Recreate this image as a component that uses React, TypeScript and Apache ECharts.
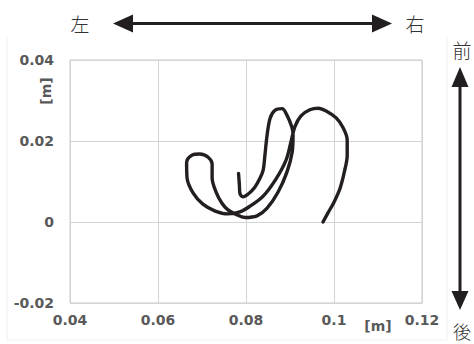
import React, { useEffect, useRef } from "react";
import * as echarts from "echarts";

const xTicks = [0.04, 0.06, 0.08, 0.1, 0.12];
const yTicks = [-0.02, 0, 0.02, 0.04];
const trajX = [
  0.0783, 0.0785, 0.0786, 0.0793, 0.0805, 0.082, 0.0832, 0.0839, 0.0843, 0.0848,
  0.0855, 0.0866, 0.0882, 0.0893, 0.0904, 0.0907, 0.0905, 0.0893, 0.0873, 0.0848,
  0.0825, 0.0798, 0.0775, 0.0759, 0.0745, 0.0732, 0.0723, 0.0723, 0.0714, 0.0695,
  0.0677, 0.0665, 0.0666, 0.068, 0.0702, 0.073, 0.0759, 0.0786, 0.0809, 0.0839,
  0.0868, 0.0891, 0.0902, 0.0911, 0.0925, 0.0945, 0.0964, 0.0984, 0.1005, 0.102,
  0.103, 0.103, 0.1024, 0.1014, 0.1, 0.0986, 0.0975,
];
const trajY = [
  0.012, 0.0091, 0.0072, 0.0062, 0.0069, 0.0086, 0.0109, 0.0128, 0.0165, 0.0215,
  0.0257, 0.0276, 0.028, 0.0264, 0.0235, 0.0215, 0.0173, 0.0123, 0.0074, 0.0034,
  0.0015, 0.0011, 0.002, 0.003, 0.0047, 0.0074, 0.0109, 0.0143, 0.016, 0.0168,
  0.0165, 0.0146, 0.0109, 0.0071, 0.0044, 0.0027, 0.002, 0.0025, 0.0039, 0.0064,
  0.0106, 0.0153, 0.0197, 0.0235, 0.0262, 0.0277, 0.0281, 0.0273, 0.0257, 0.0234,
  0.0202, 0.0165, 0.0126, 0.0084, 0.0049, 0.0022, 0.0,
];
const leftLabel = "左";
const rightLabel = "右";
const frontLabel = "前";
const backLabel = "後";
const unitLabel = "[m]";

const fmt = (v: number) => String(+v.toFixed(2));

export default function App() {
  const ref = useRef<HTMLDivElement>(null);
  useEffect(() => {
    if (!ref.current) return;
    const chart = echarts.init(ref.current, undefined, { renderer: "svg" });
    const ink = "#231f20";
    const jp = "'Noto Sans CJK JP', sans-serif";
    const numFamily = "'DejaVu Sans', 'Liberation Sans', sans-serif";
    const axisFont = {
      color: "#595959",
      fontSize: 14,
      fontWeight: "bold" as const,
      fontFamily: numFamily,
    };
    chart.setOption({
      animation: false,
      backgroundColor: "#ffffff",
      grid: {
        left: 70,
        top: 60,
        width: 352,
        height: 243,
        show: true,
        borderColor: "#c8c8c8",
        borderWidth: 1,
        containLabel: false,
      },
      xAxis: {
        type: "value",
        min: xTicks[0],
        max: xTicks[xTicks.length - 1],
        interval: 0.02,
        axisLine: { show: false },
        axisTick: { show: false },
        splitLine: { show: true, lineStyle: { color: "#d4d4d4", width: 1 } },
        axisLabel: { ...axisFont, margin: 10, formatter: fmt },
      },
      yAxis: {
        type: "value",
        min: yTicks[0],
        max: yTicks[yTicks.length - 1],
        interval: 0.02,
        axisLine: { show: false },
        axisTick: { show: false },
        splitLine: { show: true, lineStyle: { color: "#d4d4d4", width: 1 } },
        axisLabel: { ...axisFont, margin: 16, formatter: fmt },
      },
      series: [
        {
          type: "line",
          data: trajX.map((x, i) => [x, trajY[i]]),
          smooth: 0.35,
          showSymbol: false,
          symbol: "none",
          lineStyle: { color: ink, width: 3.4, cap: "round", join: "round" },
        },
      ],
      graphic: [
        { type: "line", shape: { x1: 7, y1: 37, x2: 7, y2: 340 }, style: { stroke: "#efefef", lineWidth: 1 } },
        { type: "line", shape: { x1: 447, y1: 37, x2: 447, y2: 340 }, style: { stroke: "#efefef", lineWidth: 1 } },
        { type: "line", shape: { x1: 7, y1: 340, x2: 447, y2: 340 }, style: { stroke: "#efefef", lineWidth: 1 } },
        // horizontal arrow
        { type: "line", shape: { x1: 130, y1: 23.5, x2: 375, y2: 23.5 }, style: { stroke: ink, lineWidth: 3 } },
        { type: "polygon", shape: { points: [[113, 23.5], [133, 14.5], [133, 32.5]] }, style: { fill: ink } },
        { type: "polygon", shape: { points: [[392, 23.5], [372, 14.5], [372, 32.5]] }, style: { fill: ink } },
        // vertical arrow
        { type: "line", shape: { x1: 460, y1: 84, x2: 460, y2: 294 }, style: { stroke: ink, lineWidth: 3 } },
        { type: "polygon", shape: { points: [[460, 67], [451.5, 87], [468.5, 87]] }, style: { fill: ink } },
        { type: "polygon", shape: { points: [[460, 310], [451.5, 291], [468.5, 291]] }, style: { fill: ink } },
        // direction labels
        { type: "text", x: 80, y: 23, style: { text: leftLabel, font: `300 19px ${jp}`, fill: "#333", align: "center", verticalAlign: "middle" } },
        { type: "text", x: 415, y: 23, style: { text: rightLabel, font: `300 19px ${jp}`, fill: "#333", align: "center", verticalAlign: "middle" } },
        { type: "text", x: 462, y: 49, style: { text: frontLabel, font: `300 19px ${jp}`, fill: "#333", align: "center", verticalAlign: "middle" } },
        { type: "text", x: 462, y: 331, style: { text: backLabel, font: `300 18px ${jp}`, fill: "#333", align: "center", verticalAlign: "middle" } },
        // unit labels
        { type: "text", x: 378, y: 326, style: { text: unitLabel, font: `bold 14px ${numFamily}`, fill: "#595959", align: "center", verticalAlign: "middle" } },
        { type: "text", x: 46, y: 91, rotation: Math.PI / 2, style: { text: unitLabel, font: `bold 14px ${numFamily}`, fill: "#595959", align: "center", verticalAlign: "middle" } },
      ],
    });
    return () => chart.dispose();
  }, []);
  return (
    <div
      ref={ref}
      style={{ position: "fixed", left: 0, top: 0, width: 474, height: 344 }}
    />
  );
}
